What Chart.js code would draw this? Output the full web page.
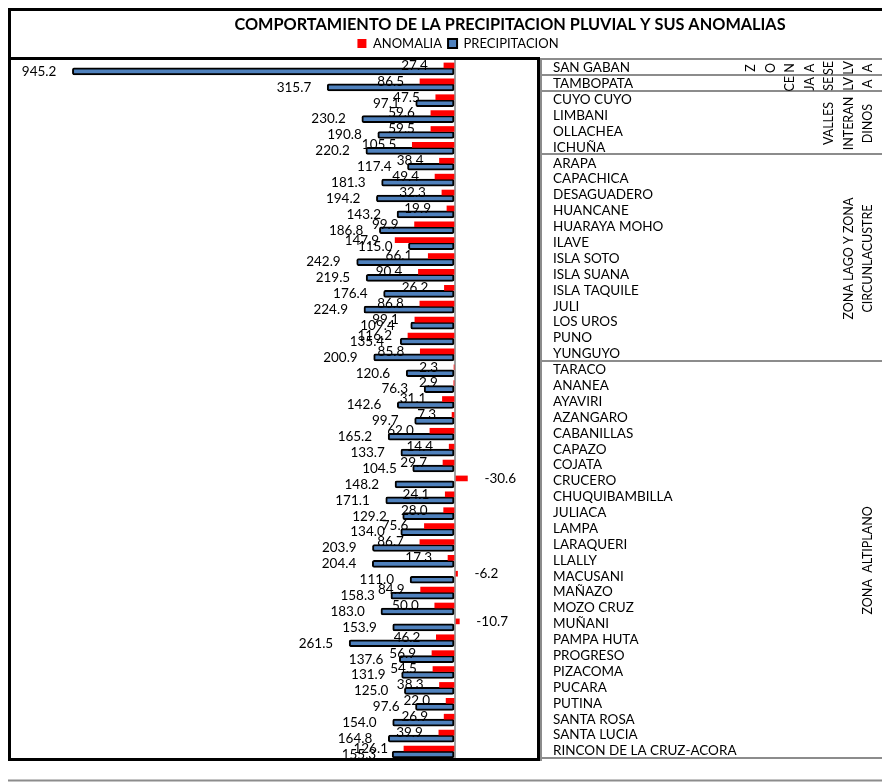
<!DOCTYPE html>
<html>
<head>
<meta charset="utf-8">
<script src="https://cdn.jsdelivr.net/npm/chart.js@4.4.1/dist/chart.umd.min.js"></script>
<style>
html,body{margin:0;padding:0;background:#fff;}
#wrap{width:882px;height:782px;position:relative;}
</style>
</head>
<body>
<div id="wrap"><canvas id="c" width="882" height="782"></canvas></div>
<script>
// Estaciones meteorológicas (de arriba hacia abajo)
const estaciones = [
  'SAN GABAN','TAMBOPATA','CUYO CUYO','LIMBANI','OLLACHEA','ICHUÑA',
  'ARAPA','CAPACHICA','DESAGUADERO','HUANCANE','HUARAYA MOHO','ILAVE','ISLA SOTO',
  'ISLA SUANA','ISLA TAQUILE','JULI','LOS UROS','PUNO','YUNGUYO',
  'TARACO','ANANEA','AYAVIRI','AZANGARO','CABANILLAS','CAPAZO','COJATA','CRUCERO',
  'CHUQUIBAMBILLA','JULIACA','LAMPA','LARAQUERI','LLALLY','MACUSANI','MAÑAZO',
  'MOZO CRUZ','MUÑANI','PAMPA HUTA','PROGRESO','PIZACOMA','PUCARA','PUTINA',
  'SANTA ROSA','SANTA LUCIA','RINCON DE LA CRUZ-ACORA'
];

// Precipitación acumulada (mm)
const precipitacion = [
  945.2, 315.7, 97.1, 230.2, 190.8, 220.2,
  117.4, 181.3, 194.2, 143.2, 186.8, 115.0, 242.9,
  219.5, 176.4, 224.9, 109.4, 135.4, 200.9,
  120.6, 76.3, 142.6, 99.7, 165.2, 133.7, 104.5, 148.2,
  171.1, 129.2, 134.0, 203.9, 204.4, 111.0, 158.3,
  183.0, 153.9, 261.5, 137.6, 131.9, 125.0, 97.6,
  154.0, 164.8, 155.3
];

// Anomalía de la precipitación (mm)
const anomalia = [
  27.4, 86.5, 47.5, 59.6, 59.5, 105.5,
  38.4, 49.4, 32.3, 19.9, 99.9, 147.9, 66.1,
  90.4, 26.2, 86.8, 99.1, 116.2, 85.8,
  2.3, 2.9, 31.1, 7.3, 62.0, 14.4, 29.7, -30.6,
  24.1, 28.0, 75.6, 86.7, 17.3, -6.2, 84.9,
  50.0, -10.7, 46.2, 56.9, 54.5, 38.3, 22.0,
  26.9, 39.9, 126.1
];

// Zonas geográficas: primera y última estación de cada grupo, y su rótulo
const zonas = [
  { primera: 0,  ultima: 0,  rotulo: ['Z','O','N','A','SE','LV','A'] },
  { primera: 1,  ultima: 1,  rotulo: ['CE','JA','SE','LV','A'] },
  { primera: 2,  ultima: 5,  rotulo: ['VALLES','INTERAN','DINOS'] },
  { primera: 6,  ultima: 18, rotulo: ['ZONA LAGO Y ZONA','CIRCUNLACUSTRE'] },
  { primera: 19, ultima: 43, rotulo: ['ZONA  ALTIPLANO'] }
];

const titulo = 'COMPORTAMIENTO DE LA PRECIPITACION PLUVIAL Y SUS ANOMALIAS';

// Etiquetas con el valor de cada barra
const etiquetasValores = {
  id: 'etiquetasValores',
  afterDatasetsDraw(chart) {
    const ctx = chart.ctx;
    ctx.save();
    ctx.font = '13.5px Lato';
    ctx.fillStyle = '#000';
    ctx.textBaseline = 'middle';
    chart.data.datasets.forEach((ds, di) => {
      const meta = chart.getDatasetMeta(di);
      meta.data.forEach((bar, i) => {
        const v = ds.data[i];
        const txt = v.toFixed(1);
        if (v >= 0) {
          ctx.textAlign = 'right';
          ctx.fillText(txt, bar.x - 16, bar.y);
        } else {
          ctx.textAlign = 'left';
          ctx.fillText(txt, bar.x + 17, bar.y);
        }
      });
    });
    ctx.restore();
  }
};

// Título, marcos y tabla de zonas
const marcos = {
  id: 'marcos',
  afterDraw(chart) {
    const ctx = chart.ctx;
    const area = chart.chartArea;
    const ys = chart.scales.y;
    const W = chart.width, H = chart.height;
    const limite = (i) => {
      if (i <= 0) return area.top;
      if (i >= estaciones.length) return area.bottom;
      return (ys.getPixelForValue(i - 1) + ys.getPixelForValue(i)) / 2;
    };
    ctx.save();

    // título
    ctx.font = 'bold 16.3px Lato';
    ctx.fillStyle = '#000';
    ctx.textAlign = 'center';
    ctx.textBaseline = 'middle';
    ctx.fillText(titulo, 510, 25);

    // tabla de zonas (líneas grises)
    const tabIzq = area.right + 3;
    ctx.strokeStyle = '#8c8c8c';
    ctx.lineWidth = 2;
    ctx.beginPath();
    ctx.moveTo(tabIzq, area.top - 2); ctx.lineTo(tabIzq, area.bottom + 2);
    ctx.moveTo(tabIzq, area.top - 1); ctx.lineTo(W, area.top - 1);
    zonas.forEach(z => {
      const yb = Math.round(limite(z.ultima + 1)) - 1;
      ctx.moveTo(tabIzq, yb); ctx.lineTo(W, yb);
    });
    ctx.moveTo(8, H - 1.5); ctx.lineTo(W, H - 1.5);
    ctx.stroke();

    // rótulos de zona, verticales
    ctx.font = '12.5px Lato';
    ctx.fillStyle = '#000';
    zonas.forEach(z => {
      const yc = (limite(z.primera) + limite(z.ultima + 1)) / 2;
      const n = z.rotulo.length;
      z.rotulo.forEach((t, j) => {
        const x = 868 - 19.5 * (n - 1 - j);
        ctx.save();
        ctx.translate(x, yc);
        ctx.rotate(-Math.PI / 2);
        ctx.fillText(t, 0, 0);
        ctx.restore();
      });
    });

    // marco exterior y del área de barras (negro)
    ctx.strokeStyle = '#000';
    ctx.lineWidth = 3;
    ctx.beginPath();
    ctx.moveTo(8, 9.5); ctx.lineTo(W, 9.5);
    ctx.moveTo(9.5, 8); ctx.lineTo(9.5, area.bottom + 2);
    ctx.moveTo(8, area.top - 1.5); ctx.lineTo(area.right + 1.5, area.top - 1.5);
    ctx.moveTo(area.right + 0.5, area.top - 3); ctx.lineTo(area.right + 0.5, area.bottom + 2);
    ctx.moveTo(8, area.bottom + 0.5); ctx.lineTo(area.right + 1.5, area.bottom + 0.5);
    ctx.stroke();
    ctx.restore();
  }
};

new Chart(document.getElementById('c'), {
  type: 'bar',
  data: {
    labels: estaciones,
    datasets: [
      {
        label: 'ANOMALIA',
        data: anomalia,
        backgroundColor: '#ff0000',
        borderWidth: 0,
        barThickness: 5
      },
      {
        label: 'PRECIPITACION',
        data: precipitacion,
        backgroundColor: '#4f81bd',
        borderColor: '#000',
        borderWidth: 2,
        borderSkipped: false,
        borderRadius: 2,
        barThickness: 7
      }
    ]
  },
  options: {
    indexAxis: 'y',
    responsive: false,
    animation: false,
    layout: { padding: { top: 31, left: 34, right: 0, bottom: 14 } },
    plugins: {
      title: { display: false },
      tooltip: { enabled: false },
      legend: {
        position: 'top',
        labels: {
          font: { family: 'Lato', size: 13 },
          color: '#000',
          boxWidth: 9,
          boxHeight: 9,
          padding: 6
        }
      }
    },
    scales: {
      x: {
        reverse: true,
        min: -205,
        max: 1040,
        z: 1,
        ticks: { display: false, stepSize: 100 },
        border: { display: false },
        grid: {
          drawTicks: false,
          lineWidth: 2,
          color: (c) => (c.tick && c.tick.value === 0) ? '#a0a0a0' : 'rgba(0,0,0,0)'
        },
        afterFit(s) { s.height = 0; }
      },
      y: {
        position: 'right',
        border: { display: false },
        grid: { display: false, drawTicks: false },
        ticks: {
          autoSkip: false,
          padding: 15,
          color: '#000',
          font: { family: 'Lato', size: 13.5 }
        },
        afterFit(s) { s.width = 344; }
      }
    }
  },
  plugins: [etiquetasValores, marcos]
});
</script>
</body>
</html>
